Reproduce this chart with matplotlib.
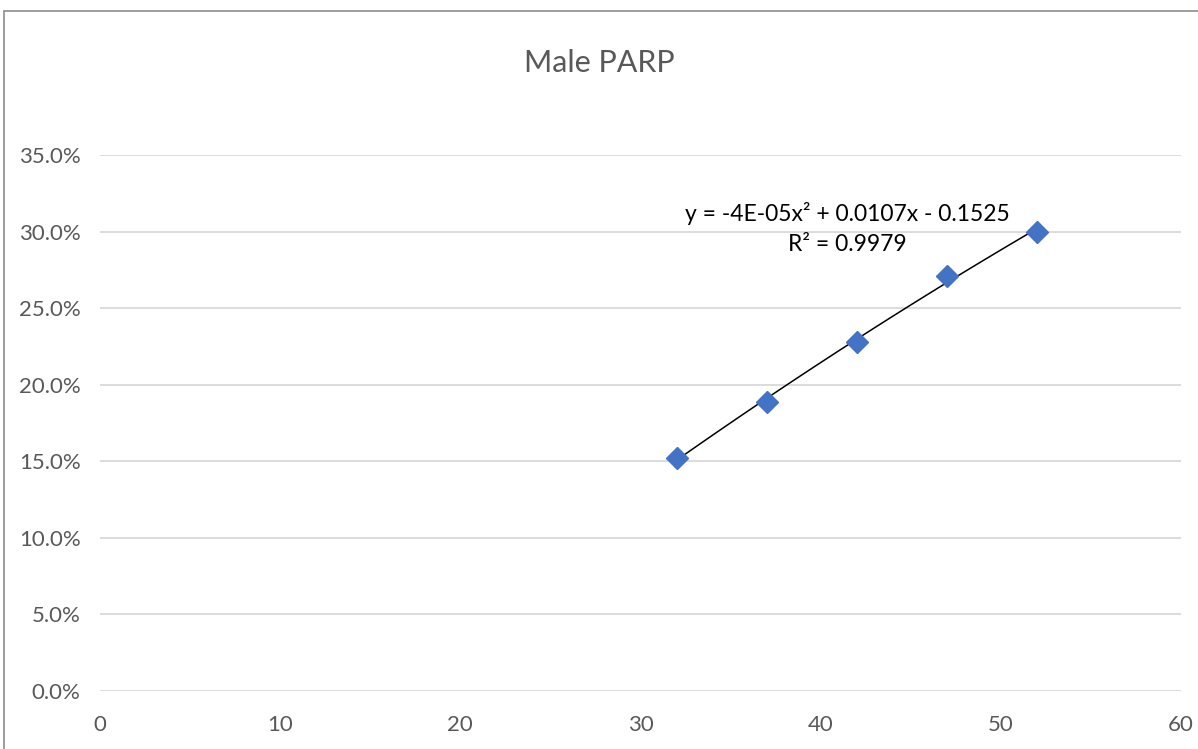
import numpy as np
import matplotlib
matplotlib.use("Agg")
import matplotlib.pyplot as plt
from matplotlib.ticker import FuncFormatter, MultipleLocator
from matplotlib.patches import Rectangle

# data
age = [32, 37, 42, 47, 52]
parp = [0.152, 0.189, 0.228, 0.271, 0.300]

plt.rcParams['font.family'] = ['Lato', 'DejaVu Sans']
grey = '#595959'

fig = plt.figure(figsize=(11.98, 7.49), dpi=100)
ax = fig.add_axes([100/1198, 1 - 691/749, 1081/1198, 536/749])

# outer chart border (only top/left visible in the crop)
fig.patches.append(Rectangle((4/1198, -0.1), 1.2, 1 - 11/749 + 0.1, transform=fig.transFigure,
                             fill=False, edgecolor='#8c8c8c', linewidth=1.2))

# polynomial trendline (order 2)
coef = np.polyfit(age, parp, 2)
xs = np.linspace(min(age), max(age), 100)
ax.plot(xs, np.polyval(coef, xs), color='black', linewidth=1.1, zorder=2)
ax.plot(age, parp, linestyle='none', marker='D', markersize=11,
        color='#4472C4', zorder=3)

ax.set_xlim(0, 60)
ax.set_ylim(0, 0.35)
ax.xaxis.set_major_locator(MultipleLocator(10))
ax.yaxis.set_major_locator(MultipleLocator(0.05))
ax.yaxis.set_major_formatter(FuncFormatter(lambda v, p: f"{v*100:.1f}%"))
ax.grid(axis='y', color='#d9d9d9', linewidth=1.3)
ax.set_axisbelow(True)
for s in ax.spines.values():
    s.set_visible(False)
ax.tick_params(length=0, labelsize=16, colors=grey)
ax.tick_params(axis='x', pad=17)
ax.tick_params(axis='y', pad=14)

fig.text(0.5, 1 - 63/749, "Male PARP", ha='center', va='center',
         fontsize=22, color=grey)

fig.text(847/1198, 1 - 213/749, "y = -4E-05x² + 0.0107x - 0.1525",
         ha='center', va='center', fontsize=16.5, color='black')
fig.text(847/1198, 1 - 245/749, "R² = 0.9979",
         ha='center', va='center', fontsize=16.5, color='black')

fig.savefig("out.png", dpi=100)
